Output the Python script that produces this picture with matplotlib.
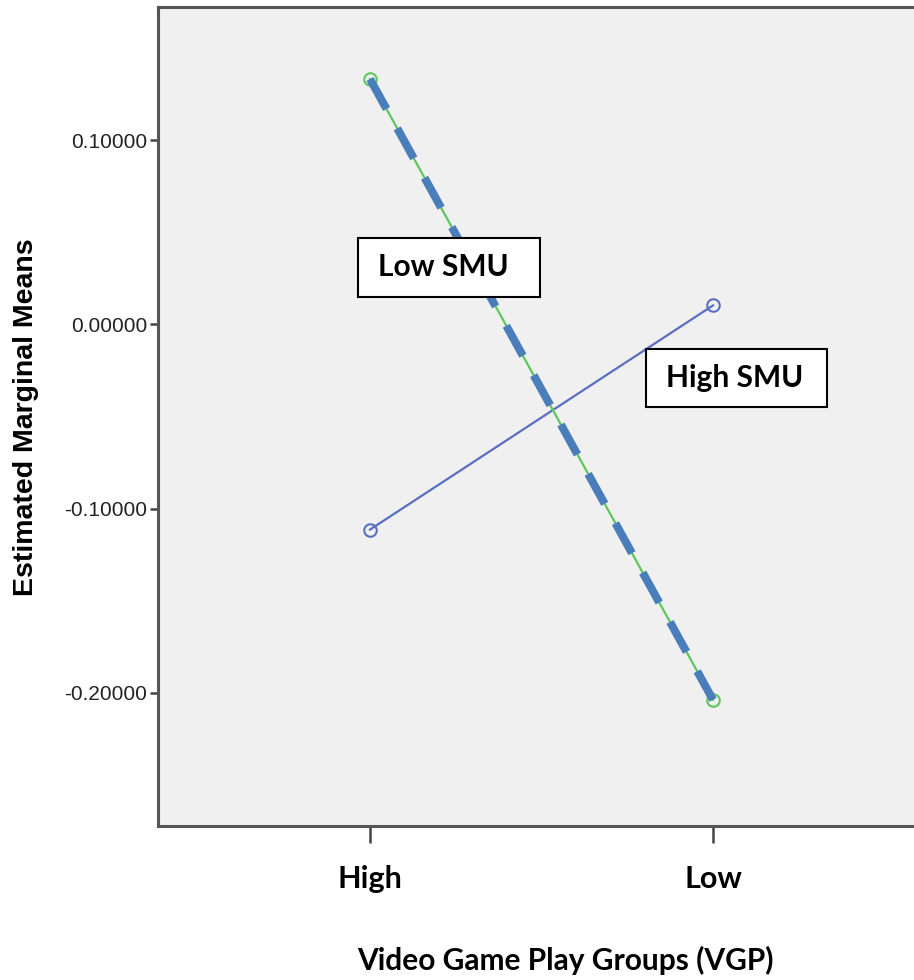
import matplotlib
matplotlib.use("Agg")
import matplotlib.pyplot as plt

categories = ["High", "Low"]
low_smu = [0.1332, -0.2038]
high_smu = [-0.1114, 0.0103]
yticks = [0.10, 0.0, -0.10, -0.20]
ytick_labels = ["0.10000", "0.00000", "-0.10000", "-0.20000"]

fig = plt.figure(figsize=(9.14, 9.80), dpi=100)
ax = fig.add_axes([158/914, 1-826/980, 1-158/914, (826-7)/980])
ax.set_facecolor("#f0f0f0")
x = list(range(len(categories)))

ax.plot(x, high_smu, color="#5a6fc2", lw=1.6, marker="o", ms=9, mfc="none", mec="#5a6fc2", mew=1.5, zorder=3)
ax.plot(x, low_smu, color="#5cc85c", lw=1.6, marker="o", ms=9, mfc="none", mec="#5cc85c", mew=1.5, zorder=3)
ax.plot(x, low_smu, color="#4a7ebb", lw=5.8, ls=(0, (4.25, 2.75)), solid_capstyle="butt", dash_capstyle="butt", zorder=4)

ax.set_xlim(-0.618, 1.586)
ax.set_ylim(-0.2723, 0.1723)
ax.set_xticks(x)
ax.set_xticklabels(categories, fontfamily="Lato", fontweight="bold", fontsize=22)
ax.set_yticks(yticks)
ax.set_yticklabels(ytick_labels, fontfamily="Liberation Sans", fontsize=15, color="#222222")
ax.tick_params(axis="y", direction="out", length=6, width=1.8, color="#444444", pad=2)
ax.tick_params(axis="x", direction="out", length=12, width=1.8, color="#444444", pad=16)

for s in ["left", "bottom", "top"]:
    ax.spines[s].set_color("#555555")
    ax.spines[s].set_linewidth(2.2)
ax.spines["right"].set_visible(False)

fig.text(26/914, 1-417/980, "Estimated Marginal Means", rotation=90, ha="center", va="center",
         fontfamily="Liberation Sans", fontweight="bold", fontsize=20.5)
fig.text((356+774)/2/914, 1-960/980, "Video Game Play Groups (VGP)", ha="center", va="center",
         fontfamily="Lato", fontweight="bold", fontsize=21.5)

for (x0, y0, x1, y1, t) in [(358, 238, 540, 297, "Low SMU"), (646, 349, 827, 407, "High SMU")]:
    r = plt.Rectangle((x0/914, 1-y1/980), (x1-x0)/914, (y1-y0)/980, transform=fig.transFigure,
                      facecolor="white", edgecolor="black", lw=1.5, zorder=5)
    fig.patches.append(r)
    fig.text((x0+20)/914, 1-(y0+y1)/2/980, t, ha="left", va="center", fontfamily="Lato",
             fontweight="bold", fontsize=21.5, zorder=6)

fig.savefig("out.png", dpi=100)
